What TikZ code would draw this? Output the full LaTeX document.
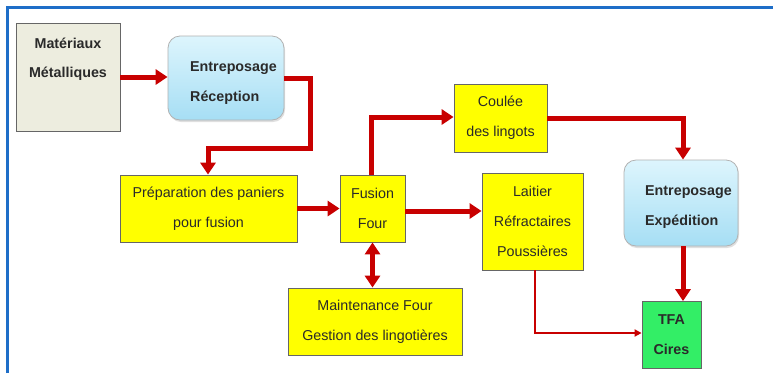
\documentclass[tikz,border=0pt]{standalone}
\usepackage{fontspec}
\setmainfont{Liberation Sans}
\usetikzlibrary{arrows.meta,shadows}
\definecolor{arrred}{HTML}{C80000}
\definecolor{boxyel}{HTML}{FFFF00}
\definecolor{boxgreen}{HTML}{33EE66}
\definecolor{boxbeige}{HTML}{EDEDDF}
\definecolor{frameblue}{HTML}{1E6EC8}
\definecolor{bluetop}{HTML}{DDF5FD}
\definecolor{bluebot}{HTML}{A6DEF4}
\definecolor{txt}{HTML}{2A2A2A}
\tikzset{
  base/.style={draw=black!60, line width=0.8pt, text=txt, align=center,
    font=\fontsize{14.3}{30}\selectfont, inner sep=0pt},
  yelbox/.style={base, fill=boxyel},
  beigebox/.style={base, fill=boxbeige, font=\bfseries\fontsize{14.3}{29}\selectfont},
  greenbox/.style={base, fill=boxgreen, font=\bfseries\fontsize{14.3}{30}\selectfont},
  bluebox/.style={base, draw=black!30, rounded corners=12pt, top color=bluetop, bottom color=bluebot,
    align=left, font=\bfseries\fontsize{14.3}{30}\selectfont,
    drop shadow={shadow xshift=1pt, shadow yshift=-2pt, opacity=0.25}},
  flow/.style={draw=arrred, line width=5pt, -{Triangle[width=15pt,length=12pt]}},
  flowboth/.style={draw=arrred, line width=5pt, {Triangle[width=15pt,length=12pt]}-{Triangle[width=15pt,length=12pt]}},
  thinflow/.style={draw=arrred, line width=1.8pt, -{Triangle[width=7pt,length=7pt]}},
  lbl/.style={text=txt, align=center, inner sep=0pt},
}
\begin{document}
\begin{tikzpicture}[x=1pt,y=-1pt]
\useasboundingbox (0,0) rectangle (773,376);
\fill[white] (0,0) rectangle (773,376);
\draw[frameblue, line width=3pt] (7.5,373) -- (7.5,7.5) -- (773,7.5);

\node[beigebox, minimum width=104pt, minimum height=108pt] (mat) at (68,77) {};
\node[lbl, font=\bfseries\fontsize{14.3}{29}\selectfont] (matlbl) at (68,59) {Matériaux\\Métalliques};
\node[bluebox, minimum width=116pt, minimum height=84pt] (rec) at (226,78) {};
\node[lbl, align=left, font=\bfseries\fontsize{14.3}{30}\selectfont, anchor=west] (reclbl) at (190,83) {Entreposage\\Réception};
\node[yelbox, minimum width=177pt, minimum height=67pt] (prep) at (208.5,208.5) {Préparation des paniers\\pour fusion};
\node[yelbox, minimum width=65pt, minimum height=67pt] (fus) at (372.5,208.5) {Fusion\\Four};
\node[yelbox, minimum width=93pt, minimum height=68pt] (cou) at (500.5,118) {Coulée\\des lingots};
\node[yelbox, minimum width=101pt, minimum height=97pt] (lai) at (532.5,221.5) {Laitier\\Réfractaires\\Poussières};
\node[bluebox, minimum width=114pt, minimum height=86pt] (exp) at (681,203) {};
\node[lbl, align=left, font=\bfseries\fontsize{14.3}{30}\selectfont, anchor=west] (explbl) at (645,207) {Entreposage\\Expédition};
\node[yelbox, minimum width=174pt, minimum height=67pt] (mai) at (375,321.5) {Maintenance Four\\Gestion des lingotières};
\node[greenbox, minimum width=59pt, minimum height=67pt] (tfa) at (671.5,335) {TFA\\Cires};
\path[use as bounding box] (0,0) rectangle (773,376);

\coordinate (r1) at (310,78);
\coordinate (r2) at (310,148);
\coordinate (r3) at (208,148);
\coordinate (f1) at (371,117);
\coordinate (c1) at (683,118);
\coordinate (l1) at (535,333);

\draw[flow] (mat.east) -- (rec.west |- mat.east);
\draw[flow] (rec.east) -- (r1) -- (r2) -- (r3) -- (prep.north -| r3);
\draw[flow] (prep.east) -- (fus.west);
\draw[flow] (fus.north -| f1) -- (f1) -- (cou.west |- f1);
\draw[flow] ([yshift=-2.5pt]fus.east) -- ([yshift=-2.5pt]lai.west |- fus.east);
\draw[flow] (cou.east) -- (c1) -- (exp.north -| c1);
\draw[flow] (exp.south -| c1) -- (tfa.north -| c1);
\draw[flowboth] (fus.south) -- (mai.north -| fus.south);
\draw[thinflow] (lai.south -| l1) -- (l1) -- (tfa.west |- l1);
\end{tikzpicture}
\end{document}
